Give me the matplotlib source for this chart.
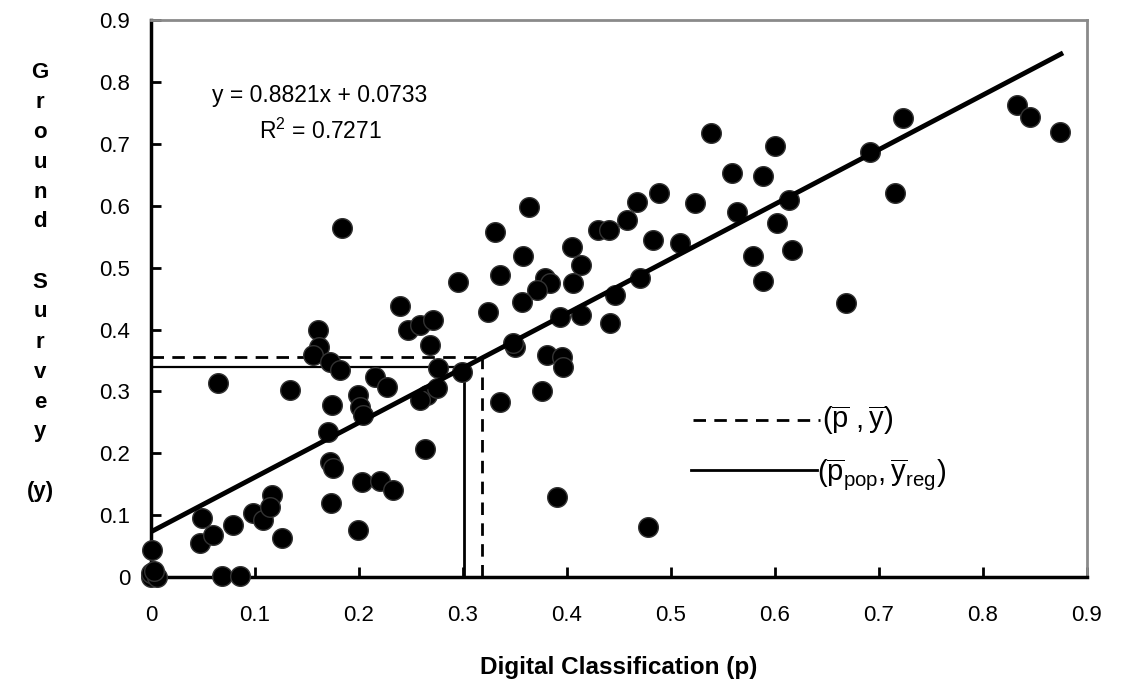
import matplotlib
matplotlib.use("Agg")
import matplotlib.pyplot as plt
import numpy as np

plt.rcParams['font.family'] = ['Liberation Sans', 'DejaVu Sans']
plt.rcParams['mathtext.fontset'] = 'custom'
plt.rcParams['mathtext.rm'] = 'Liberation Sans'
plt.rcParams['mathtext.it'] = 'Liberation Sans'

# digital classification (p) vs ground survey (y)
p_vals = [0.0, 0.004, 0.0, 0.001, 0.049, 0.047, 0.06, 0.079, 0.098, 0.108,
          0.116, 0.114, 0.126, 0.068, 0.086, 0.064, 0.134,
          0.161, 0.162, 0.156, 0.172, 0.182, 0.174, 0.17, 0.172, 0.175,
          0.173, 0.199, 0.184, 0.199, 0.201, 0.204, 0.215, 0.227, 0.203,
          0.22, 0.233, 0.239, 0.247, 0.259, 0.271, 0.268, 0.276, 0.299,
          0.265, 0.259, 0.275, 0.263, 0.324, 0.336, 0.331, 0.363, 0.358,
          0.405, 0.413, 0.406, 0.43, 0.44, 0.458, 0.467, 0.488, 0.483,
          0.336, 0.295, 0.379, 0.384, 0.371, 0.357, 0.393, 0.413, 0.446,
          0.47, 0.441, 0.35, 0.348, 0.381, 0.395, 0.396, 0.376, 0.39,
          0.478, 0.538, 0.6, 0.559, 0.588, 0.523, 0.563, 0.602, 0.509,
          0.579, 0.588, 0.616, 0.613, 0.668, 0.691, 0.715, 0.723, 0.833,
          0.845, 0.874, 0.006, 0.003]
y_vals = [0.0, 0.003, 0.006, 0.044, 0.095, 0.055, 0.068, 0.084, 0.103, 0.092,
          0.133, 0.113, 0.063, 0.002, 0.002, 0.313, 0.302,
          0.399, 0.372, 0.359, 0.348, 0.335, 0.278, 0.234, 0.186, 0.176,
          0.12, 0.076, 0.564, 0.294, 0.275, 0.262, 0.323, 0.307, 0.153,
          0.155, 0.141, 0.438, 0.399, 0.407, 0.416, 0.375, 0.338, 0.332,
          0.294, 0.286, 0.306, 0.207, 0.428, 0.283, 0.558, 0.598, 0.518,
          0.534, 0.504, 0.475, 0.561, 0.561, 0.577, 0.606, 0.621, 0.545,
          0.488, 0.477, 0.483, 0.475, 0.464, 0.445, 0.42, 0.424, 0.456,
          0.483, 0.411, 0.372, 0.378, 0.359, 0.356, 0.34, 0.3, 0.13,
          0.081, 0.718, 0.697, 0.653, 0.648, 0.605, 0.59, 0.572, 0.54,
          0.518, 0.478, 0.529, 0.61, 0.443, 0.687, 0.621, 0.742, 0.763,
          0.744, 0.719, 0.0, 0.01]

slope = 0.8821
intercept = 0.0733
r_squared = 0.7271
p_max = 0.877

p_bar, y_bar = 0.318, 0.355          # sample means (dashed)
p_pop, y_reg = 0.301, 0.339          # population mean / regression estimate (solid)

ticks = [0, 0.1, 0.2, 0.3, 0.4, 0.5, 0.6, 0.7, 0.8, 0.9]
tick_labels = ['0', '0.1', '0.2', '0.3', '0.4', '0.5', '0.6', '0.7', '0.8', '0.9']

fig = plt.figure(figsize=(11.27, 6.79), dpi=100)
ax = fig.add_axes([0.134, 0.150, 0.8305, 0.8205])

ax.scatter(p_vals, y_vals, s=200, color='black', edgecolors='#333333',
           linewidths=1.0, zorder=3, clip_on=False)

xs = np.array([0, p_max])
ax.plot(xs, slope * xs + intercept, color='black', lw=3.5, zorder=4,
        solid_capstyle='butt')

ax.plot([0, p_bar], [y_bar, y_bar], color='black', lw=2, ls=(0, (4.5, 3)), zorder=2)
ax.plot([p_bar, p_bar], [0, y_bar], color='black', lw=2, ls=(0, (4.5, 3)), zorder=2)
ax.plot([0, p_pop], [y_reg, y_reg], color='black', lw=1.6, zorder=2)
ax.plot([p_pop, p_pop], [0, y_reg], color='black', lw=2, zorder=2)

# legend drawn by hand, like the original
ax.plot([0.521, 0.643], [0.254, 0.254], color='black', lw=2, ls=(0, (4.5, 3)))
ax.plot([0.519, 0.640], [0.173, 0.173], color='black', lw=2)
ax.text(0.645, 0.254, r'$(\overline{\mathrm{p}}\ ,\overline{\mathrm{y}})$',
        fontsize=21, va='center', ha='left')
ax.text(0.640, 0.166, r'$(\overline{\mathrm{p}}_{\mathrm{pop}},\overline{\mathrm{y}}_{\mathrm{reg}})$',
        fontsize=21, va='center', ha='left')

ax.text(0.1625, 0.778, 'y = 0.8821x + 0.0733', fontsize=16.5, ha='center', va='center')
ax.text(0.1625, 0.720, r'R$^2$ = 0.7271', fontsize=16.5, ha='center', va='center')

ax.set_xlim(0, 0.9)
ax.set_ylim(0, 0.9)
ax.set_xticks(ticks)
ax.set_xticklabels(tick_labels)
ax.set_yticks(ticks)
ax.set_yticklabels(tick_labels)
ax.tick_params(direction='in', length=7, width=2, labelsize=16)
ax.tick_params(axis='x', pad=20)
ax.tick_params(axis='y', pad=15)

for side in ['left', 'bottom']:
    ax.spines[side].set_linewidth(2.5)
    ax.spines[side].set_color('black')
for side in ['top', 'right']:
    ax.spines[side].set_linewidth(2)
    ax.spines[side].set_color('#8a8a8a')

ax.set_xlabel('Digital Classification (p)', fontsize=17.5, fontweight='bold',
              labelpad=22)

# stacked y-axis label, one letter per line
ylab = ['G', 'r', 'o', 'u', 'n', 'd', '', 'S', 'u', 'r', 'v', 'e', 'y', '', '(y)']
for i, ch in enumerate(ylab):
    if ch:
        fig.text(40 / 1127, 1 - (72 + 30 * i) / 679, ch, fontsize=16,
                 fontweight='bold', ha='center', va='center')

fig.savefig('out.png', dpi=100)
